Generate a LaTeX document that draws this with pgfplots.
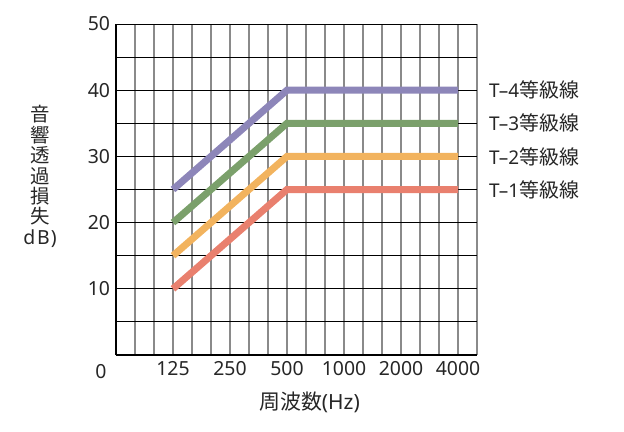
\documentclass[border=0pt]{standalone}
\usepackage{fontspec}
\setmainfont{Noto Sans CJK JP}
\newfontfamily\latin{Noto Sans}
\usepackage{pgfplots}
\pgfplotsset{compat=1.18}

\definecolor{tfour}{HTML}{8D86B9}
\definecolor{tthree}{HTML}{7BA06B}
\definecolor{ttwo}{HTML}{F2B35E}
\definecolor{tone}{HTML}{E9806E}
\definecolor{vgrid}{HTML}{8A8A8A}

\begin{document}
\begin{tikzpicture}
\useasboundingbox (-116bp,-77bp) rectangle (508bp,355bp);
\begin{axis}[
  at={(0,0)}, anchor=south west,
  scale only axis,
  width=361bp, height=331bp,
  xmin=0, xmax=19,
  ymin=0, ymax=50,
  xtick={3,6,9,12,15,18},
  xticklabels={\mbox{125},\mbox{250},\mbox{500},\mbox{1000},\mbox{2000},\mbox{4000}},
  minor xtick={0,1,2,4,5,7,8,10,11,13,14,16,17,19},
  ytick={10,20,30,40,50},
  yticklabels={\mbox{10},\mbox{20},\mbox{30},\mbox{40},\mbox{50}},
  minor ytick={5,15,25,35,45},
  major tick length=0pt, minor tick length=0pt,
  xmajorgrids, xminorgrids, ymajorgrids, yminorgrids,
  x grid style={vgrid, line width=1.1bp},
  y grid style={black, line width=0.9bp},
  axis x line*=bottom, axis y line*=left,
  axis line style={black, line width=1.1bp, -},
  tick label style={font=\latin\fontsize{19.5}{21}\selectfont, text=black!85},
  xticklabel style={yshift=-3bp},
  yticklabel style={xshift=-2.5bp},
  clip=false,
]
\addplot[tone, line width=7bp, line cap=butt, line join=miter] coordinates {(3,10) (9,25) (18,25)};
\addplot[ttwo, line width=7bp, line cap=butt, line join=miter] coordinates {(3,15) (9,30) (18,30)};
\addplot[tthree, line width=7bp, line cap=butt, line join=miter] coordinates {(3,20) (9,35) (18,35)};
\addplot[tfour, line width=7bp, line cap=butt, line join=miter] coordinates {(3,25) (9,40) (18,40)};

\begin{scope}[every node/.style={font=\fontsize{20}{22}\selectfont, text=black!85, anchor=west, inner sep=0pt}]
\node at (axis cs:19,40) [xshift=12bp] {{\latin\fontsize{19}{22}\selectfont T–4}等級線};
\node at (axis cs:19,35) [xshift=12bp] {{\latin\fontsize{19}{22}\selectfont T–3}等級線};
\node at (axis cs:19,30) [xshift=12bp] {{\latin\fontsize{19}{22}\selectfont T–2}等級線};
\node at (axis cs:19,25) [xshift=12bp] {{\latin\fontsize{19}{22}\selectfont T–1}等級線};
\end{scope}

\node[font=\latin\fontsize{19.5}{21}\selectfont, text=black!85, inner sep=0pt] at (rel axis cs:0,0) [xshift=-15bp, yshift=-17bp] {0};
\node[font=\fontsize{21}{23}\selectfont, text=black!85, inner sep=0pt] at (rel axis cs:0.5,0) [xshift=13bp, yshift=-47bp] {周波数{\latin(Hz)}};
\node[font=\fontsize{19.5}{20.5}\selectfont, text=black!85, inner sep=0pt, align=center] at (rel axis cs:0,0.5) [xshift=-76bp, yshift=13bp] {音\\響\\透\\過\\損\\失\\{\latin d\hspace{2bp}B\hspace{1bp})}};
\end{axis}
\end{tikzpicture}
\end{document}
